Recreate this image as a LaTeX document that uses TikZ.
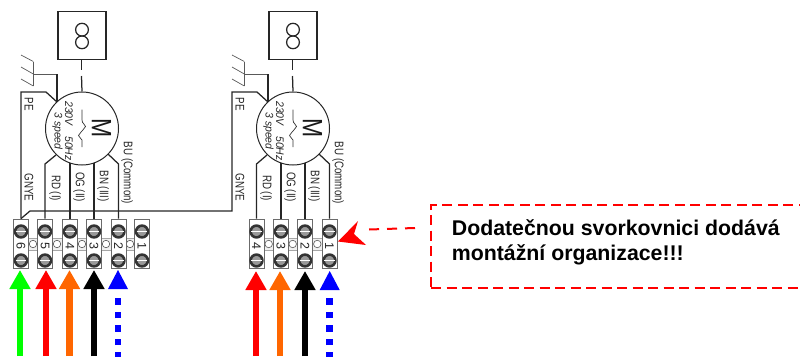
\documentclass[tikz,border=0pt]{standalone}
\usepackage{fontspec}
\setmainfont{Liberation Sans}
\usetikzlibrary{arrows.meta}
\definecolor{termgray}{gray}{0.42}
\definecolor{screwdark}{gray}{0.2}
\definecolor{linkgray}{gray}{0.65}
\definecolor{wireorange}{RGB}{255,102,0}
\definecolor{wirered}{RGB}{255,0,0}
\definecolor{wiregreen}{RGB}{0,255,0}
\definecolor{wireblue}{RGB}{0,0,255}
\tikzset{
  wire/.style={draw=black!85,line width=1.25pt},
  thinwire/.style={draw=black!65,line width=0.7pt},
  motorbody/.style={circle,draw=black!85,line width=1pt,minimum size=73pt,inner sep=0pt},
  fanbox/.style={draw=black!85,line width=1.2pt,minimum width=48pt,minimum height=48pt,inner sep=0pt},
  termbox/.style={draw=termgray,fill=white,line width=0.8pt,minimum width=15pt,minimum height=49pt,inner sep=0pt},
  linkbox/.style={draw=linkgray,fill=black!6,line width=0.7pt,minimum width=10pt,minimum height=12pt,inner sep=0pt},
  linkdot/.style={circle,draw=black!65,fill=white,line width=0.6pt,minimum size=7.5pt,inner sep=0pt},
  screwhead/.style={circle,draw=screwdark,fill=black!40,line width=2.6pt,minimum size=11.8pt,inner sep=0pt},
  wlabel/.style={rotate=-90,xscale=.78,font=\fontsize{12.5}{13}\selectfont,inner sep=0pt,text=black!85},
  tnum/.style={rotate=-90,font=\fontsize{12.5}{12}\selectfont,inner sep=0pt,text=black!85},
  shaftline/.style={line width=6.5pt},
}
% terminal: name, centre x, number
\newcommand{\terminal}[3]{%
  \node[termbox] (t#1) at (#2,-243.5) {};
  \node[screwhead] (t#1a) at (#2,-231.5) {};
  \node[screwhead] (t#1b) at (#2,-260.5) {};
  \draw[line width=1.2pt,draw=white] (#2-5.4,-231.5) -- (#2+5.4,-231.5);
  \draw[line width=1.2pt,draw=white] (#2-5.4,-260.5) -- (#2+5.4,-260.5);
  \node[tnum] (n#1) at (#2,-245.5) {#3};
}
\newcommand{\tlink}[2]{%
  \node[linkbox] (l#1) at (#2,-244) {};
  \node[linkdot] (d#1) at (#2,-244) {};
}
% motor: prefix, x offset
\newcommand{\motor}[2]{%
  \begin{scope}[shift={(#2,0)}]
    \node[fanbox] (#1fan) at (82,-35.5) {};
    \draw[wire] (82,-29.7) circle[radius=6.4];
    \draw[wire] (82,-42.3) circle[radius=6.4];
    \node[motorbody] (#1mot) at (82,-128.5) {};
    \coordinate (#1sa) at (81.5,-69.5);
    \coordinate (#1sb) at (81.5,-76);
    \draw[wire] (#1fan.south) ++(-0.5,0) -- (#1sa);
    \draw[wire] (#1sb) -- (#1mot.north);
    % earth
    \coordinate (#1ga) at (33.3,-61.5); \coordinate (#1gb) at (33.3,-86);
    \coordinate (#1gc) at (33.3,-74);
    \draw[thinwire] (#1ga) -- (#1gb);
    \draw[thinwire] (21,-55) -- (#1ga);
    \draw[thinwire] (21,-67) -- (#1gc);
    \draw[thinwire] (21,-79) -- (#1gb);
    \draw[thinwire] (#1gc) -- (57,-74);
    \draw[wire] (57,-74) -- (57,-102);
    % motor text
    \node[rotate=-90,xscale=.82,font=\fontsize{28}{28}\selectfont,inner sep=0pt,text=black!90] (#1M) at (101.5,-128) {M};
    \node[rotate=-90,xscale=.95,font=\itshape\fontsize{11}{11}\selectfont,inner sep=0pt,align=center,text=black!85] (#1spec) at (62.5,-131) {230V\hspace{11pt}50Hz\\[-0.5pt]3 speed};
    \draw[thinwire,draw=black!80] (82,-109.5) -- (82,-120)
      .. controls (82,-124) and (85.5,-124) .. (85.5,-126.5)
      .. controls (85.5,-129) and (82,-129) .. (82,-131)
      .. controls (82,-133) and (78.5,-133) .. (78.5,-135.5)
      .. controls (78.5,-138) and (82,-138) .. (82,-140) -- (82,-147);
    % wire labels
    \node[wlabel] (#1rd) at (55,-188) {RD (I)};
    \node[wlabel] (#1og) at (79,-187) {OG (II)};
    \node[wlabel] (#1bn) at (103,-186) {BN (III)};
    \node[wlabel] (#1bu) at (127,-173) {BU (Common)};
    \node[wlabel] (#1pe) at (29,-104.5) {PE};
    \node[wlabel] (#1gn) at (29,-187.5) {GNYE};
  \end{scope}
}
\begin{document}
\begin{tikzpicture}[x=1pt,y=1pt]
\useasboundingbox (0,-356) rectangle (800,0);
\motor{a}{0}
\motor{b}{211}
% links under the terminals
\tlink{a}{33}\tlink{b}{57}\tlink{c}{82}\tlink{d}{106}\tlink{e}{130}
\tlink{f}{268.7}\tlink{g}{292.7}\tlink{h}{317.3}
% left block
\terminal{A}{21}{6}\terminal{B}{45}{5}\terminal{C}{70}{4}\terminal{D}{94}{3}\terminal{E}{118.5}{2}\terminal{F}{142}{1}
% right block
\terminal{G}{256.5}{4}\terminal{H}{281}{3}\terminal{I}{305}{2}\terminal{J}{329.5}{1}
% wires motor 1
\draw[wire] (tA.north) -- (21,-92) -- (46,-92) -- (57,-102);
\draw[wire] (tB.north) -- (45,-164) -- (56,-155);
\draw[wire] (tC.north) -- (70,-163);
\draw[wire] (tD.north) -- (94,-163);
\draw[wire] (tE.north) -- (118.5,-164) -- (108,-154);
% wires motor 2
\draw[wire] (tA.north) -- (30,-211) -- (232,-211) -- (232,-92) -- (257,-92) -- (268,-102);
\draw[wire] (tG.north) -- (256.5,-164) -- (267,-155);
\draw[wire] (tH.north) -- (281,-163);
\draw[wire] (tI.north) -- (305,-163);
\draw[wire] (tJ.north) -- (329.5,-164) -- (319,-154);
% arrows
\foreach \nm/\px/\col/\tp in {gA/20/wiregreen/270,gB/46/wirered/270,gC/69.5/wireorange/270,gD/94/black/270,
   gF/256/wirered/271,gG/280/wireorange/271,gH/305/black/271}{
  \coordinate (\nm s) at (\px,-356);
  \coordinate (\nm t) at (\px,-\tp);
  \draw[shaftline,draw=\col,-{Triangle[length=19pt,width=20pt,fill=\col]}] (\nm s) -- (\nm t);
}
\foreach \nm/\px/\tp in {gE/118/270,gI/329.7/271}{
  \coordinate (\nm h) at (\px,-\tp);
  \coordinate (\nm s) at (\px,-358.5);
  \coordinate (\nm e) at (\px,-295.5);
  \draw[line width=6.5pt,draw=wireblue,dash pattern=on 6.5pt off 6.9pt] (\nm s) -- (\nm e);
  \fill[wireblue] (\nm h) -- (\px-10,-\tp-19) -- (\px+10,-\tp-19) -- cycle;
}
% note
\node[draw=wirered,dash pattern=on 10pt off 5.5pt,line width=2pt,minimum width=372pt,minimum height=83pt,anchor=north west,inner sep=0pt] (note) at (430,-204) {};
\node[anchor=west,align=left,inner sep=0pt,font=\bfseries\fontsize{21.3}{25.3}\selectfont,text=black] (notetext) at (451.7,-242.5) {Dodatečnou svorkovnici dodává\\montážní organizace!!!};
\coordinate (notefrom) at (415,-228);
\coordinate (notemid) at (369,-229.5);
\coordinate (notetip) at (338,-241.5);
\draw[draw=wirered,line width=2pt,dash pattern=on 10pt off 8pt] (notefrom) -- (notemid);
\fill[wirered] (notetip) -- (358,-221) -- (354,-234) -- (366,-245) -- cycle;
\end{tikzpicture}
\end{document}
